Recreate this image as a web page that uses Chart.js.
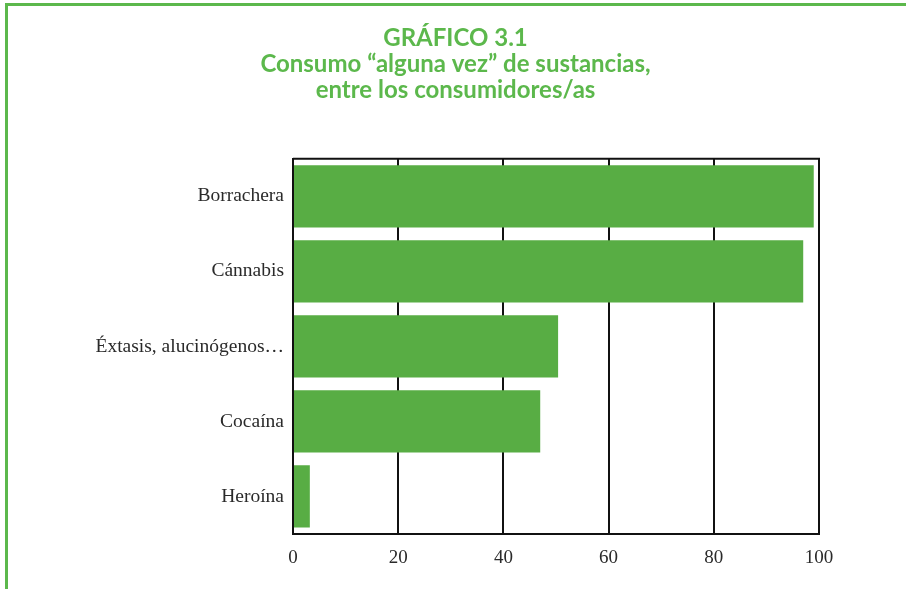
<!DOCTYPE html>
<html>
<head>
<meta charset="utf-8">
<script src="https://cdn.jsdelivr.net/npm/chart.js@4.4.0/dist/chart.umd.min.js"></script>
<style>
  html, body { margin: 0; padding: 0; background: #fff; }
  #wrap { position: relative; width: 906px; height: 589px; }
  #frame { position: absolute; left: 5px; top: 3px; right: 0; bottom: 0;
           border-left: 3px solid #5cb84c; border-top: 3px solid #5cb84c; }
  canvas { position: absolute; left: 0; top: 0; }
</style>
</head>
<body>
<div id="wrap">
  <div id="frame"></div>
  <canvas id="consumoChart" width="906" height="589"></canvas>
</div>
<script>
// Datos del gráfico
const substances = ['Borrachera', 'Cánnabis', 'Éxtasis, alucinógenos…', 'Cocaína', 'Heroína'];
const percentages = [99, 97, 50.4, 47, 3.2];
const xTicks = [0, 20, 40, 60, 80, 100];
const titleLines = ['GRÁFICO 3.1', 'Consumo “alguna vez” de sustancias,', 'entre los consumidores/as'];

const ctx = document.getElementById('consumoChart').getContext('2d');

const consumoChart = new Chart(ctx, {
    type: 'bar',
    data: {
        labels: substances,
        datasets: [{
            data: percentages,
            backgroundColor: '#58ad44',
            borderWidth: 0,
            categoryPercentage: 1,
            barPercentage: 0.83
        }]
    },
    options: {
        indexAxis: 'y',
        responsive: false,
        animation: false,
        layout: { padding: { left: 92, right: 87, top: 0, bottom: 0 } },
        plugins: {
            legend: { display: false },
            tooltip: { enabled: false },
            title: {
                display: true,
                text: titleLines,
                color: '#5cb84c',
                font: { family: 'Lato', size: 24, weight: 'bold', lineHeight: 1.08 },
                padding: { top: 25, bottom: 56 }
            }
        },
        scales: {
            x: {
                min: 0,
                max: 100,
                afterBuildTicks: scale => { scale.ticks = xTicks.map(v => ({ value: v })); },
                afterFit: scale => { scale.height = 55; },
                border: { display: true, color: '#111', width: 2 },
                grid: { display: true, color: '#111', lineWidth: 2, drawTicks: false },
                ticks: {
                    color: '#2a2a2a',
                    padding: 13,
                    font: { family: 'Liberation Serif', size: 19 }
                }
            },
            y: {
                afterFit: scale => { scale.width = 201; },
                border: { display: true, color: '#111', width: 2 },
                grid: { display: false, drawTicks: false },
                ticks: {
                    color: '#2a2a2a',
                    padding: 9,
                    font: { family: 'Liberation Serif', size: 19.5 }
                }
            }
        }
    },
    plugins: [{
        // borde superior y derecho del área del gráfico
        id: 'plotFrame',
        afterDraw(chart) {
            const { ctx, chartArea } = chart;
            ctx.save();
            ctx.strokeStyle = '#111';
            ctx.lineWidth = 2;
            ctx.beginPath();
            ctx.moveTo(chartArea.left, chartArea.top);
            ctx.lineTo(chartArea.right, chartArea.top);
            ctx.lineTo(chartArea.right, chartArea.bottom);
            ctx.stroke();
            ctx.restore();
        }
    }]
});
</script>
</body>
</html>
